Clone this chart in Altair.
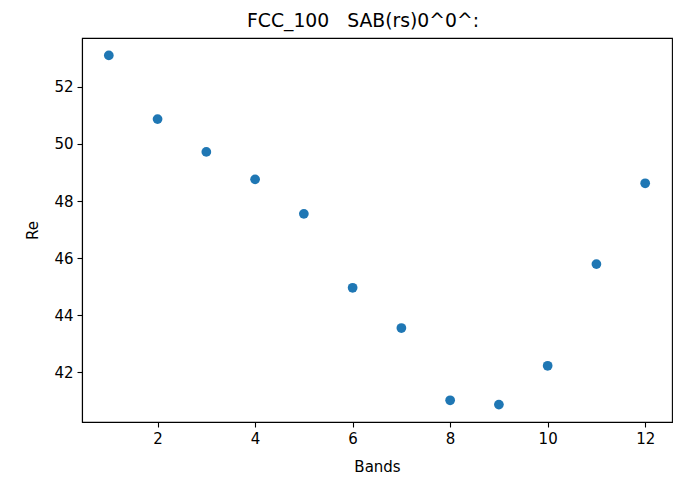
import altair as alt
import pandas as pd

bands = [1, 2, 3, 4, 5, 6, 7, 8, 9, 10, 11, 12]
re_vals = [53.10, 50.87, 49.72, 48.76, 47.55, 44.96, 43.55, 41.02, 40.87, 42.23, 45.79, 48.62]
x_ticks = [2, 4, 6, 8, 10, 12]
y_ticks = [42, 44, 46, 48, 50, 52]
title_text = "FCC_100\u00a0\u00a0\u00a0SAB(rs)0^0^:"

df = pd.DataFrame({"Bands": bands, "Re": re_vals})

FONT = "DejaVu Sans"

chart = alt.Chart(df).mark_circle(size=95, opacity=1, color="#1f77b4").encode(
    x=alt.X("Bands:Q",
            scale=alt.Scale(domain=[0.45, 12.55], nice=False, zero=False),
            axis=alt.Axis(values=x_ticks, title="Bands", grid=False,
                          tickSize=5, labelPadding=4,
                          titleX=295, titleY=44, titleBaseline="middle",
                          titleAlign="center")),
    y=alt.Y("Re:Q",
            scale=alt.Scale(domain=[40.26, 53.71], nice=False, zero=False),
            axis=alt.Axis(values=y_ticks, title="Re", grid=False,
                          tickSize=5, labelPadding=4,
                          titleX=-50, titleY=192, titleAngle=270,
                          titleBaseline="middle", titleAlign="center")),
).properties(
    width=590,
    height=384,
    title=alt.TitleParams(title_text, fontSize=18.8, font=FONT,
                          fontWeight="normal", color="black", anchor="middle",
                          offset=8, baseline="bottom", dy=20, dx=-14),
    padding={"left": 82, "top": 38, "right": 2, "bottom": 55},
    autosize=alt.AutoSizeParams(type="none"),
).configure_view(
    stroke="black", strokeWidth=1.1
).configure_axis(
    labelFont=FONT, titleFont=FONT, labelFontSize=15, titleFontSize=15,
    labelColor="black", titleColor="black", titleFontWeight="normal",
    domainColor="black", tickColor="black", domainWidth=1.1, tickWidth=1.1,
)

chart.save("out.html", embed_options={"renderer": "svg", "actions": False})
